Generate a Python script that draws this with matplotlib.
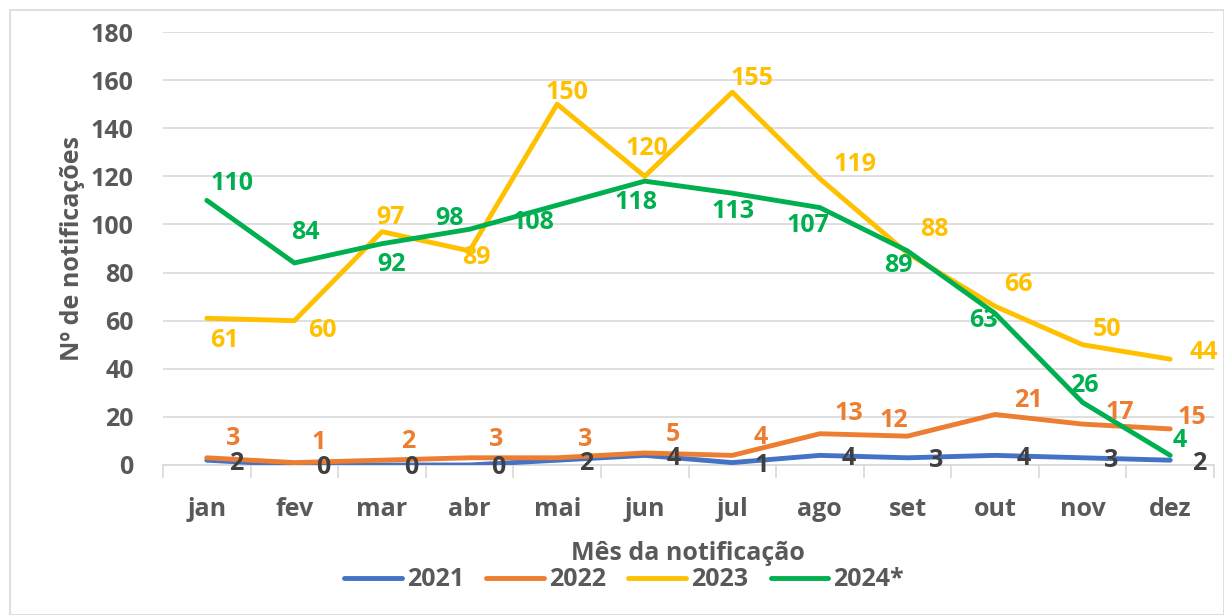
import matplotlib.pyplot as plt
from matplotlib.patches import Rectangle

plt.rcParams['font.family'] = ['Open Sans', 'DejaVu Sans']
plt.rcParams['font.weight'] = 'bold'

meses = ['jan', 'fev', 'mar', 'abr', 'mai', 'jun', 'jul', 'ago', 'set', 'out', 'nov', 'dez']
anos = ['2021', '2022', '2023', '2024*']
v2021 = [2, 0, 0, 0, 2, 4, 1, 4, 3, 4, 3, 2]
v2022 = [3, 1, 2, 3, 3, 5, 4, 13, 12, 21, 17, 15]
v2023 = [61, 60, 97, 89, 150, 120, 155, 119, 88, 66, 50, 44]
v2024 = [110, 84, 92, 98, 108, 118, 113, 107, 89, 63, 26, 4]

cores = ['#4472C4', '#ED7D31', '#FFC000', '#00B050']
cores_rot = ['#404040', '#ED7D31', '#FFC000', '#00B050']

# label offsets in pixels (dx, dy downwards)
off2021 = [(29, 3)] * 12
off2022 = [(26, -19), (24, -20), (26, -19), (27, -18), (28, -18), (28, -18),
           (28, -18), (29, -20), (-14, -16), (33, -14), (37, -12), (22, -11)]
off2023 = [(18, 22), (28, 10), (8, -14), (7, 7), (10, -12), (2, -28),
           (20, -14), (35, -14), (27, -24), (23, -22), (24, -15), (34, -7)]
off2024 = [(25, -17), (11, -30), (10, 21), (-20, -11), (-24, 17), (-9, 21),
           (1, 18), (-12, 18), (-9, 15), (-12, 7), (2, -17), (10, -15)]

fig = plt.figure(figsize=(12.24, 6.15), dpi=100)
fig.patches.append(Rectangle((10 / 1224, 0), 1 - 10 / 1224, 1 - 10 / 615, transform=fig.transFigure,
                             fill=False, edgecolor='#D9D9D9', linewidth=1.2))
ax = fig.add_axes([163 / 1224, 1 - 465 / 615, (1214 - 163) / 1224, (465 - 32) / 615])

x = list(range(len(meses)))
series = [v2021, v2022, v2023, v2024]
offs = [off2021, off2022, off2023, off2024]
for nome, vals, cor in zip(anos, series, cores):
    ax.plot(x, vals, color=cor, linewidth=3.5, label=nome, solid_capstyle='round', zorder=3)
for vals, cr, off in zip(series, cores_rot, offs):
    for xi, v, (dx, dy) in zip(x, vals, off):
        ax.annotate(str(v), (xi, v), xytext=(dx * 0.72, -dy * 0.72), textcoords='offset points',
                    ha='center', va='center', fontsize=18, fontweight='bold', color=cr, zorder=5)

ax.set_xlim(-0.5, 11.5)
ax.set_ylim(0, 180)
ax.set_yticks(range(0, 181, 20))
ax.set_xticks(x)
ax.set_xticklabels(meses)
ax.set_xticks([i + 0.5 for i in range(-1, 12)], minor=True)
ax.tick_params(axis='x', which='major', length=0, pad=23, labelsize=18, labelcolor='#595959')
ax.tick_params(axis='x', which='minor', length=9, color='#D9D9D9', width=1.2)
ax.tick_params(axis='y', length=0, pad=21, labelsize=18, labelcolor='#595959')
ax.grid(axis='y', color='#D9D9D9', linewidth=1.2)
ax.set_axisbelow(True)
for s in ['top', 'right', 'left']:
    ax.spines[s].set_visible(False)
ax.spines['bottom'].set_color('#D9D9D9')
ax.spines['bottom'].set_linewidth(1.2)

ax.set_ylabel('Nº de notificações', fontsize=18, fontweight='bold', color='#595959', labelpad=4)
fig.text(688 / 1224, 1 - 553 / 615, 'Mês da notificação', ha='center', va='center',
         fontsize=18, fontweight='bold', color='#595959')
fig.legend(loc='center', bbox_to_anchor=(624 / 1224, 1 - 580 / 615), ncol=4, frameon=False,
           fontsize=18, handlelength=2.3, handletextpad=0.2, columnspacing=0.9,
           labelcolor='#595959', borderpad=0)

fig.savefig('out.png', dpi=100)
